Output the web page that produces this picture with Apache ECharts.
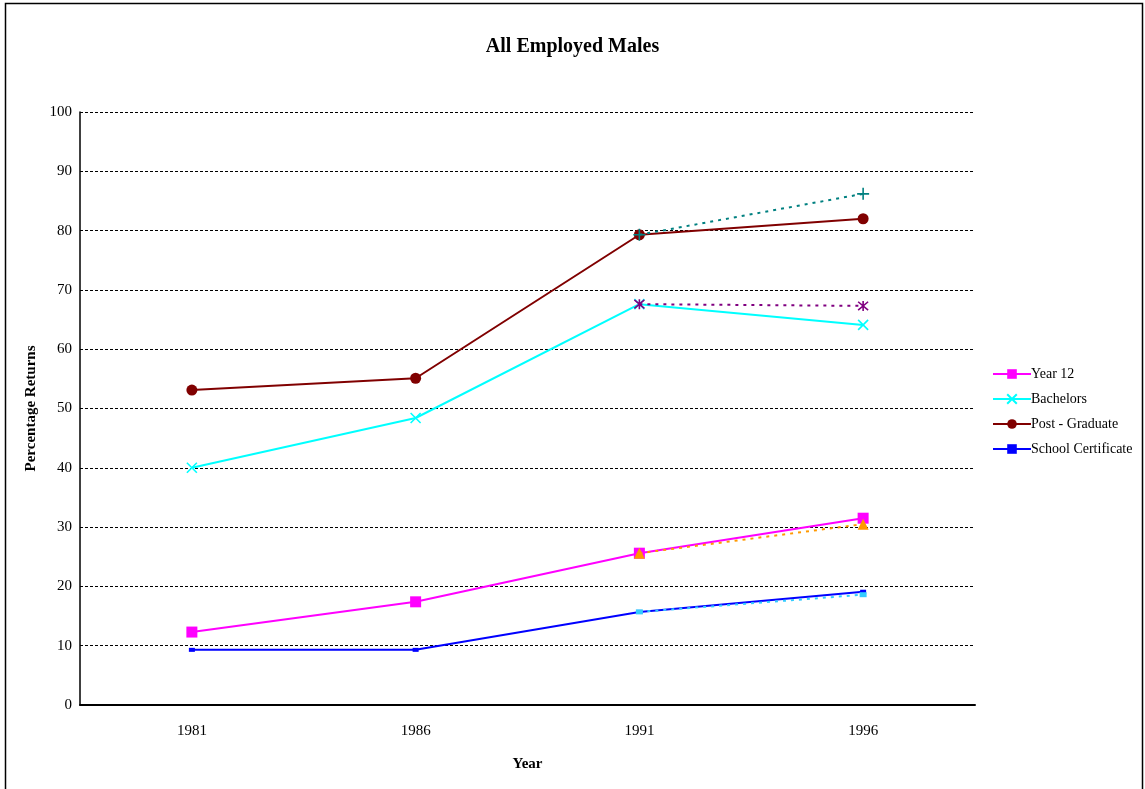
<!DOCTYPE html>
<html>
<head>
<meta charset="utf-8">
<script src="https://cdn.jsdelivr.net/npm/echarts@6/dist/echarts.min.js"></script>
<style>
  html, body { margin: 0; padding: 0; background: #fff; }
  #chart { width: 1145px; height: 789px; }
</style>
</head>
<body>
<div id="chart"></div>
<script>
// Census years on the horizontal axis
const years = ['1981', '1986', '1991', '1996'];

// Percentage returns by qualification (solid series, shown in legend)
const year12 = [12.3, 17.4, 25.6, 31.5];
const bachelors = [40.0, 48.4, 67.6, 64.1];
const postGraduate = [53.1, 55.1, 79.3, 82.0];
const schoolCertificate = [9.3, 9.3, 15.7, 19.1];

// Alternative 1991-1996 estimates (dotted series, not in legend)
const postGraduateAlt = [null, null, 79.3, 86.2];
const bachelorsAlt = [null, null, 67.6, 67.3];
const year12Alt = [null, null, 25.6, 30.5];
const schoolCertificateAlt = [null, null, 15.7, 18.6];

const FONT = '"Liberation Serif", "Times New Roman", serif';

const crossPath = 'path://M0,0L10,10M10,0L0,10';
const plusPath = 'path://M5,0L5,10M0,5L10,5';
const starPath = 'path://M0,0L10,10M10,0L0,10M5,-1L5,11';

function solid(name, data, color, symbol, size, stroke) {
  return {
    name, type: 'line', data, symbol, symbolSize: size,
    lineStyle: { color, width: 2 },
    itemStyle: stroke ? { color, borderColor: color, borderWidth: 1.6 } : { color },
    emphasis: { disabled: true },
    animation: false, z: 2
  };
}

function dotted(data, color, symbol, size, stroke) {
  return {
    type: 'line', data, symbol, symbolSize: size,
    lineStyle: { color, width: 2, type: [3, 5] },
    itemStyle: stroke ? { color, borderColor: color, borderWidth: 1.6 } : { color },
    emphasis: { disabled: true },
    animation: false, z: 3
  };
}

const chart = echarts.init(document.getElementById('chart'), null, { renderer: 'canvas' });
chart.setOption({
  backgroundColor: '#fff',
  animation: false,
  title: {
    text: 'All Employed Males',
    left: 'center', top: 32,
    textStyle: { fontFamily: FONT, fontSize: 20, fontWeight: 'bold', color: '#000' }
  },
  graphic: [{
    type: 'rect', silent: true,
    shape: { x: 5.5, y: 3.5, width: 1137, height: 820 },
    style: { fill: null, stroke: '#000', lineWidth: 1.5 }
  }],
  legend: {
    orient: 'vertical', left: 987, top: 362,
    itemWidth: 38, itemHeight: 12, itemGap: 11,
    data: ['Year 12', 'Bachelors', 'Post - Graduate', 'School Certificate'],
    textStyle: { fontFamily: FONT, fontSize: 14, color: '#000', padding: [0, 0, 0, -5] }
  },
  grid: { left: 80, right: 170, top: 112, bottom: 84 },
  xAxis: {
    type: 'category', data: years, boundaryGap: true,
    name: 'Year', nameLocation: 'middle', nameGap: 52,
    nameTextStyle: { fontFamily: FONT, fontSize: 15, fontWeight: 'bold', color: '#000' },
    axisLine: { lineStyle: { color: '#000', width: 2 } },
    axisTick: { show: false },
    axisLabel: { fontFamily: FONT, fontSize: 15, color: '#000', margin: 19 }
  },
  yAxis: {
    type: 'value', min: 0, max: 100, interval: 10,
    name: 'Percentage Returns', nameLocation: 'middle', nameGap: 38,
    nameTextStyle: { fontFamily: FONT, fontSize: 15, fontWeight: 'bold', color: '#000' },
    axisLine: { show: true, lineStyle: { color: '#000', width: 1.5 } },
    axisTick: { show: false },
    axisLabel: { fontFamily: FONT, fontSize: 15, color: '#000', margin: 8 },
    splitLine: { lineStyle: { color: '#000', width: 1, type: [3, 2] } }
  },
  series: [
    solid('Year 12', year12, '#FF00FF', 'rect', 11, false),
    solid('Bachelors', bachelors, '#00FFFF', crossPath, 10, true),
    solid('Post - Graduate', postGraduate, '#800000', 'circle', 11, false),
    solid('School Certificate', schoolCertificate, '#0000FF', 'rect', [6, 4], false),
    dotted(postGraduateAlt, '#008080', plusPath, 12, true),
    dotted(bachelorsAlt, '#800080', starPath, 10, true),
    dotted(year12Alt, '#FF9900', 'triangle', 11, false),
    dotted(schoolCertificateAlt, '#33CCFF', 'rect', [7, 5], false)
  ]
});
</script>
</body>
</html>
